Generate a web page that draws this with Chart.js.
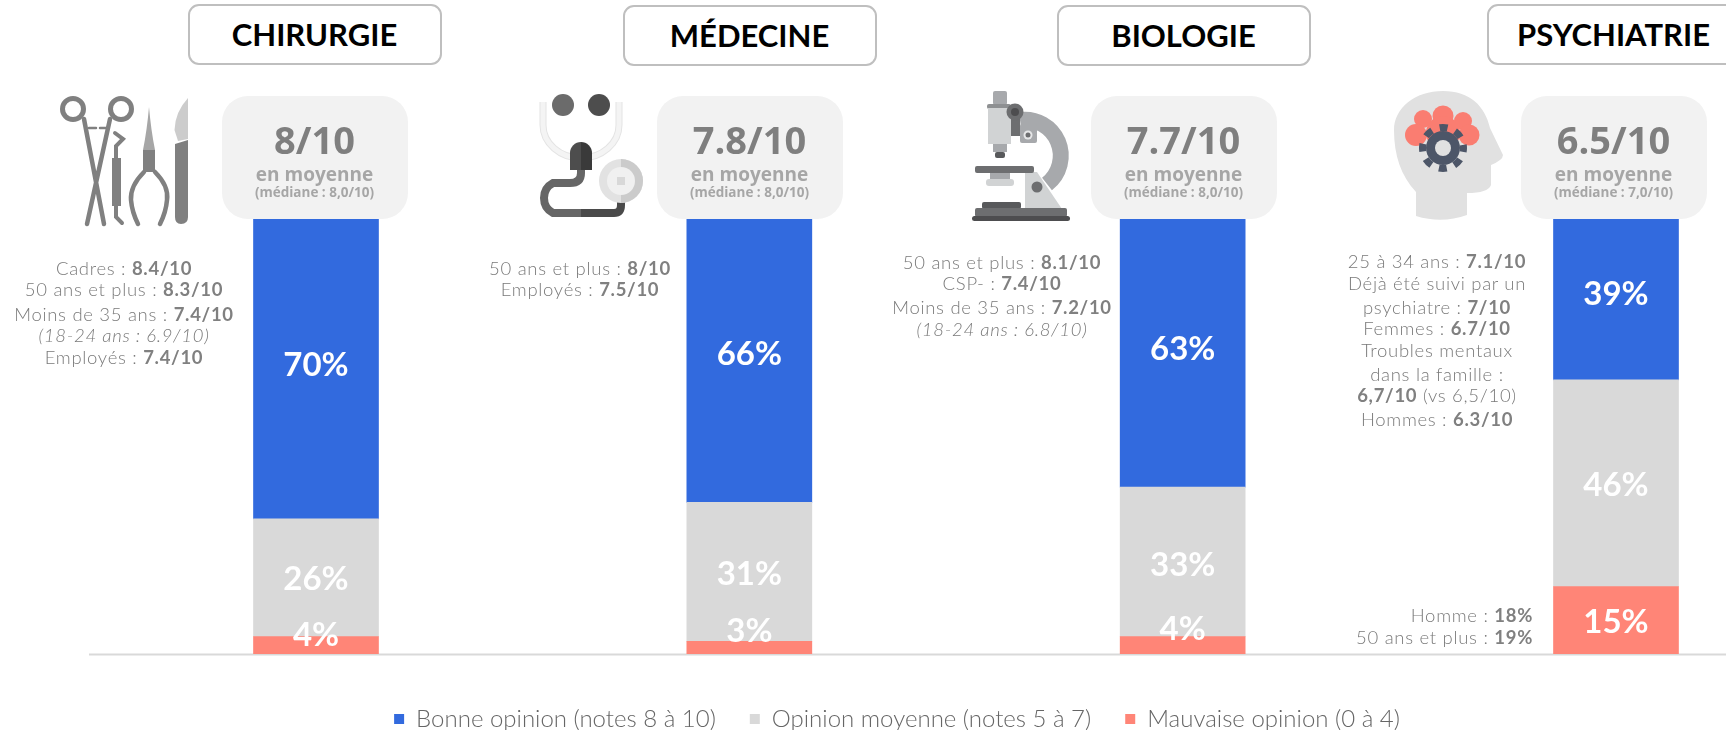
<!DOCTYPE html>
<html lang="fr">
<head>
<meta charset="utf-8">
<title>Opinion par spécialité</title>
<script src="https://cdn.jsdelivr.net/npm/chart.js@4"></script>
<style>
    html, body { margin: 0; padding: 0; background: #fff; }
    #page { position: relative; width: 1726px; height: 730px; overflow: hidden; font-family: Lato, sans-serif; }
    #graphique { position: absolute; left: 0; top: 0; }
    #icones { position: absolute; left: 0; top: 0; }
    .titre { position: absolute; box-sizing: border-box; width: 254px; height: 61px; border: 2px solid #bfbfbf; border-radius: 11px;
             background: #fff; color: #000; font: 700 31px/57px Lato, sans-serif; text-align: center; }
    .carte { position: absolute; width: 186px; height: 123px; top: 96px; background: #f2f2f2; border-radius: 26px; text-align: center; }
    .carte div { position: absolute; left: 0; right: 0; white-space: nowrap; }
    .note { top: 20px; font: 700 38px/46px "Open Sans", sans-serif; color: #7f7f7f; }
    .moyenne { top: 66px; font: 700 19px/24px "Open Sans", sans-serif; color: #a6a6a6; }
    .mediane { top: 87px; font: 700 13.5px/18px "Open Sans", sans-serif; color: #a6a6a6; }
    .ligne { position: absolute; width: 400px; margin-left: -200px; text-align: center; white-space: nowrap;
             font: 300 18.5px/22px Lato, sans-serif; color: #7a7a7a; letter-spacing: 0.7px; }
    .ligne.droite { margin-left: -400px; text-align: right; }
    .ligne b { font-weight: 700; color: #808080; }
</style>
</head>
<body>
<div id="page">
    <canvas id="graphique" width="1726" height="741" style="width:1726px;height:741px"></canvas>
    <svg id="icones" width="1726" height="730" viewBox="0 0 1726 730">
        <!-- chirurgie -->
        <g fill="none" stroke="#808080" stroke-width="5" stroke-linecap="round">
            <circle cx="73" cy="109" r="10.5"/>
            <circle cx="121" cy="109" r="10.5"/>
            <path d="M84 119 L104 224 M110 119 L87 224" stroke-width="4.5"/>
            <path d="M89 128 H96 M100 128 H106" stroke-width="2.5"/>
            <path d="M115 133 L123 139 L116 146 V158 M116 206 V217 L122 223" stroke-width="4"/>
            <path d="M144 172 Q130 186 131 200 Q132 212 138 224 M155 172 Q169 186 167 200 Q166 212 160 224" stroke-width="4.5"/>
        </g>
        <rect x="112" y="158" width="9" height="48" fill="#808080"/>
        <path d="M149 107 Q147 130 143 150 H155 Q151 130 149 107 Z" fill="#a6a6a6"/>
        <rect x="143" y="150" width="12" height="22" fill="#808080"/>
        <path d="M188 98 Q175 112 174.500 130 L178 141 L188 139 Z" fill="#cccccc"/>
        <path d="M175 144 L188 140 V217 Q188 224 181 224 Q175 224 175 217 Z" fill="#808080"/>
        <!-- médecine -->
        <path d="M543 102 V125 A38 33 0 0 0 619 125 V102" fill="none" stroke="#e4e4e4" stroke-width="7"/>
        <path d="M543 102 V125 A38 33 0 0 0 619 125 V102" fill="none" stroke="#f4f4f4" stroke-width="5"/>
        <circle cx="563" cy="105" r="11" fill="#6b6b6b"/>
        <circle cx="599" cy="105" r="11" fill="#4d4d4d"/>
        <path d="M581 170 V173 Q581 183 570 183 H553 A17 17 0 0 0 553 213 H581" fill="none" stroke="#666666" stroke-width="8"/>
        <path d="M581 213 H614 Q621 213 621 205 V198" fill="none" stroke="#4a4a4a" stroke-width="8"/>
        <path d="M570 170 V153 A11 11 0 0 1 581 142 V170 Z" fill="#4d4d4d"/>
        <path d="M592 170 V153 A11 11 0 0 0 581 142 V170 Z" fill="#3a3a3a"/>
        <circle cx="621" cy="181" r="22" fill="#e2e2e2"/>
        <path d="M621 159 A22 22 0 0 1 621 203 Z" fill="#cbcbcb"/>
        <circle cx="621" cy="181" r="14" fill="#f0f0f0"/>
        <rect x="617" y="177" width="8" height="8" fill="#d8d8d8"/>
        <!-- biologie -->
        <path d="M1020 120 A36 36 0 0 1 1047 184" fill="none" stroke="#a7a9ac" stroke-width="16"/>
        <rect x="1020" y="124" width="17" height="19" rx="2" fill="#a7a9ac"/>
        <circle cx="1028" cy="135" r="4.500" fill="#e6e7e8"/><circle cx="1028" cy="135" r="2.500" fill="#6d6e70"/>
        <rect x="993" y="91" width="14" height="14" rx="2" fill="#a7a9ac"/>
        <rect x="987" y="104" width="24" height="5" rx="2" fill="#8e9092"/>
        <rect x="988" y="108" width="23" height="36" fill="#d1d3d4"/>
        <rect x="993" y="144" width="14" height="8" fill="#a7a9ac"/>
        <rect x="995" y="152" width="10" height="6" rx="2" fill="#58595b"/>
        <rect x="1011" y="116" width="9" height="20" fill="#6d6e70"/>
        <circle cx="1015" cy="112" r="8.500" fill="#6d6e70"/><circle cx="1015" cy="112" r="4" fill="#4d4d4f"/>
        <path d="M1025 172 L1037 172 L1062 209 H1025 Z" fill="#d1d3d4"/>
        <circle cx="1037" cy="187" r="5.500" fill="#6d6e70"/>
        <rect x="975" y="166" width="59" height="7" rx="2" fill="#6d6e70"/>
        <rect x="990" y="173" width="20" height="7" fill="#a7a9ac"/>
        <rect x="986" y="179" width="28" height="7" rx="3" fill="#d1d3d4"/>
        <rect x="982" y="202" width="39" height="7" rx="2" fill="#58595b"/>
        <rect x="975" y="208" width="92" height="9" rx="2" fill="#6d6e70"/>
        <rect x="972" y="216" width="98" height="5" rx="2.500" fill="#4d4d4f"/>
        <!-- psychiatrie -->
        <path d="M1416 216 V192 C1401 176 1394 155 1394 130 C1394 108 1415 91 1443 91 C1470 91 1485 106 1490 128 L1503 155 Q1503 160 1491 165 L1491 185 Q1488 193 1467 193 V215 Q1442 224 1416 216 Z" fill="#e1e1e1"/>
        <g fill="#fa7d71">
            <circle cx="1423" cy="119" r="9"/><circle cx="1443" cy="116" r="10.500"/><circle cx="1463" cy="121" r="9"/>
            <circle cx="1469" cy="135" r="10.500"/><circle cx="1416" cy="135" r="11"/><circle cx="1443" cy="133" r="17"/>
        </g>
        <circle cx="1443" cy="148" r="17" fill="#4d5668"/>
        <circle cx="1443" cy="148" r="20.500" fill="none" stroke="#4d5668" stroke-width="7" stroke-dasharray="8.050 8.050" stroke-dashoffset="4.025"/>
        <circle cx="1443" cy="148" r="8" fill="#e1e1e1"/>
    </svg>
</div>
<script>
const categories = ['CHIRURGIE', 'MÉDECINE', 'BIOLOGIE', 'PSYCHIATRIE'];

// hauteurs relevées sur les barres de l'image (elles ne suivent pas toujours le % imprimé)
const bonneOpinion = [69, 65.2, 61.7, 37];
const opinionMoyenne = [27.1, 32, 34.4, 47.6];
const mauvaiseOpinion = [3.9, 2.8, 3.9, 15.4];

// pourcentages imprimés dans les barres
const labelsBonne = ['70%', '66%', '63%', '39%'];
const labelsMoyenne = ['26%', '31%', '33%', '46%'];
const labelsMauvaise = ['4%', '3%', '4%', '15%'];

const notes = ['8/10', '7.8/10', '7.7/10', '6.5/10'];
const medianes = ['(médiane : 8,0/10)', '(médiane : 8,0/10)', '(médiane : 8,0/10)', '(médiane : 7,0/10)'];

const notesChirurgie = ['Cadres : <b>8.4/10</b>', '50 ans et plus : <b>8.3/10</b>', 'Moins de 35 ans : <b>7.4/10</b>', '<i>(18-24 ans : 6.9/10)</i>', 'Employés : <b>7.4/10</b>'];
const notesMedecine = ['50 ans et plus : <b>8/10</b>', 'Employés : <b>7.5/10</b>'];
const notesBiologie = ['50 ans et plus : <b>8.1/10</b>', 'CSP- : <b>7.4/10</b>', 'Moins de 35 ans : <b>7.2/10</b>', '<i>(18-24 ans : 6.8/10)</i>'];
const notesPsychiatrie = ['25 à 34 ans : <b>7.1/10</b>', 'Déjà été suivi par un', 'psychiatre : <b>7/10</b>', 'Femmes : <b>6.7/10</b>', 'Troubles mentaux', 'dans la famille :', '<b>6,7/10</b> (vs 6,5/10)', 'Hommes : <b>6.3/10</b>'];
const notesMauvaise = ['Homme : <b>18%</b>', '50 ans et plus : <b>19%</b>'];

const colors = {
    blue: '#326ade',
    grey: '#d9d9d9',
    red: '#ff8577'
};

// --- habillage HTML autour du graphique ---
const page = document.getElementById('page');
const centres = [314.5, 749.5, 1183.5, 1613.5];
const hautTitre = [4, 5, 5, 4];

function ajouter(classe, html, styles, parent) {
    const el = document.createElement('div');
    el.className = classe;
    el.innerHTML = html;
    Object.assign(el.style, styles);
    (parent || page).appendChild(el);
    return el;
}

categories.forEach((nom, i) => {
    ajouter('titre', nom, { left: (centres[i] - 127) + 'px', top: hautTitre[i] + 'px' });
    const carte = ajouter('carte', '', { left: (centres[i] - 93) + 'px' });
    ajouter('note', notes[i], {}, carte);
    ajouter('moyenne', 'en moyenne', {}, carte);
    ajouter('mediane', medianes[i], {}, carte);
});

function bloc(lignes, x, ys, classe) {
    lignes.forEach((txt, i) => {
        ajouter('ligne' + (classe ? ' ' + classe : ''), txt, { left: x + 'px', top: (ys[i] - 10) + 'px' });
    });
}
bloc(notesChirurgie, 124, [267, 288, 313, 334, 356]);
bloc(notesMedecine, 580, [267, 288]);
bloc(notesBiologie, 1002, [261, 282, 306, 328]);
bloc(notesPsychiatrie, 1437, [260, 282, 306, 327, 349, 373, 394, 418]);
bloc(notesMauvaise, 1533, [614, 636], 'droite');

// --- étiquettes dans les barres et ligne de base ---
const decalages = [
    [-10, -16, -16, 2],
    [2, 2.5, 3, 2],
    [-4, -6, -4, -5]
];
const textes = [labelsMauvaise, labelsMoyenne, labelsBonne];

const etiquettesBarres = {
    id: 'etiquettesBarres',
    beforeDatasetsDraw(chart) {
        const ctx = chart.ctx;
        const y0 = chart.scales.y.getPixelForValue(0);
        ctx.save();
        ctx.strokeStyle = colors.grey;
        ctx.lineWidth = 2;
        ctx.beginPath();
        ctx.moveTo(89, y0 + 1);
        ctx.lineTo(1726, y0 + 1);
        ctx.stroke();
        ctx.restore();
    },
    afterDatasetsDraw(chart) {
        const ctx = chart.ctx;
        ctx.save();
        ctx.fillStyle = '#fff';
        ctx.font = '700 33px Lato, sans-serif';
        ctx.textAlign = 'center';
        ctx.textBaseline = 'middle';
        chart.data.datasets.forEach((ds, d) => {
            chart.getDatasetMeta(d).data.forEach((bar, i) => {
                const c = bar.getCenterPoint();
                ctx.fillText(textes[d][i], c.x, c.y + decalages[d][i]);
            });
        });
        ctx.restore();
    }
};

const ctxOpinion = document.getElementById('graphique').getContext('2d');
const chartOpinion = new Chart(ctxOpinion, {
    type: 'bar',
    data: {
        labels: categories,
        datasets: [
            { label: 'Mauvaise opinion (0 à 4)', data: mauvaiseOpinion, backgroundColor: colors.red },
            { label: 'Opinion moyenne (notes 5 à 7)', data: opinionMoyenne, backgroundColor: colors.grey },
            { label: 'Bonne opinion (notes 8 à 10)', data: bonneOpinion, backgroundColor: colors.blue }
        ]
    },
    options: {
        responsive: false,
        animation: false,
        clip: false,
        barThickness: 125,
        layout: { padding: { left: 178, right: 110, top: 219, bottom: 0 } },
        plugins: {
            tooltip: { enabled: false },
            legend: {
                position: 'bottom',
                reverse: true,
                labels: {
                    boxWidth: 10,
                    boxHeight: 10,
                    padding: 34,
                    color: '#666666',
                    font: { family: 'Lato, sans-serif', size: 24, weight: '300' }
                }
            }
        },
        scales: {
            x: {
                stacked: true,
                offset: false,
                grid: { display: false },
                border: { display: false },
                ticks: { display: false },
                afterFit(scale) { scale.height = 19.4; }
            },
            y: {
                stacked: true,
                min: 0,
                max: 100,
                grid: { display: false },
                border: { display: false },
                ticks: { display: false },
                afterFit(scale) { scale.width = 138; }
            }
        }
    },
    plugins: [etiquettesBarres]
});
</script>
</body>
</html>
